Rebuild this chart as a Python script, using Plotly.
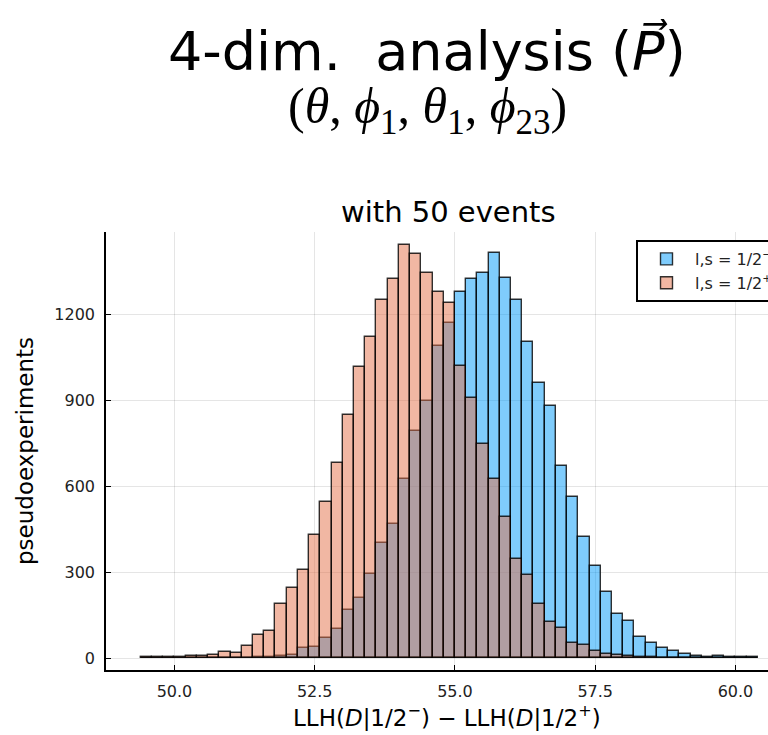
import numpy as np
import plotly.graph_objects as go

# ---------------- data ----------------
bin_width = 0.2
bin_left_edges = np.round(np.arange(49.4, 60.4 - 1e-9, bin_width), 1)  # 55 bins, 49.4 ... 60.2

counts_minus = [  # blue series
    0, 0, 0, 0, 0, 0, 0, 0,          # 49.4 - 50.8
    1, 2, 3, 5, 8, 13, 35, 40,       # 51.0 - 52.4
    70, 102, 169, 209, 295, 403, 469, 626,   # 52.6 - 54.0
    792, 899, 1091, 1172, 1279, 1323, 1345, 1413,  # 54.2 - 55.6
    1328, 1250, 1104, 962, 880, 672, 562, 422,     # 55.8 - 57.2
    322, 230, 153, 130, 75, 52, 37, 25,            # 57.4 - 58.8
    16, 8, 6, 8, 5, 4, 3,                          # 59.0 - 60.2
]
counts_plus = [  # red series
    5, 4, 4, 4, 9, 8, 11, 23,        # 49.4 - 50.8
    20, 42, 83, 95, 191, 246, 308, 431,      # 51.0 - 52.4
    544, 682, 849, 1017, 1120, 1250, 1323, 1444,   # 52.6 - 54.0
    1410, 1345, 1280, 1241, 1020, 909, 749, 626,   # 54.2 - 55.6
    494, 347, 291, 188, 126, 107, 52, 47,          # 55.8 - 57.2
    26, 15, 10, 7, 5, 3, 2, 1,                     # 57.4 - 58.8
    1, 0, 0, 0, 0, 0, 0,                           # 59.0 - 60.2
]
series_names = ["l,s = 1/2<sup>−</sup>", "l,s = 1/2<sup>+</sup>"]
x_tickvals = [50.0, 52.5, 55.0, 57.5, 60.0]
x_ticktext = ["50.0", "52.5", "55.0", "57.5", "60.0"]
y_tickvals = [0, 300, 600, 900, 1200]
y_ticktext = ["0", "300", "600", "900", "1200"]

main_title = "4-dim.  analysis (<i>P\u20d7</i>)"
sub_title = "(<i>θ</i>, <i>ϕ</i><sub>1</sub>, <i>θ</i><sub>1</sub>, <i>ϕ</i><sub>23</sub>)"
plot_title = "with 50 events"
x_label = "LLH(<i>D</i>|1/2<sup>−</sup>) − LLH(<i>D</i>|1/2<sup>+</sup>)"
y_label = "pseudoexperiments"

# ---------------- layout geometry (pixels) ----------------
W, H = 768, 735
L, R, T, B = 106, 768, 232, 670
PW, PH = R - L, B - T


def px(x):
    return (x - L) / PW


def py(y):
    return (B - y) / PH


centers = bin_left_edges + bin_width / 2
FONT = "DejaVu Sans"

fig = go.Figure()
fig.add_trace(go.Bar(
    x=centers, y=counts_minus, width=bin_width, name=series_names[0],
    marker=dict(color="rgba(0,154,250,0.5)",
                line=dict(color="rgba(0,0,0,0.8)", width=1.4)),
))
fig.add_trace(go.Bar(
    x=centers, y=counts_plus, width=bin_width, name=series_names[1],
    marker=dict(color="rgba(227,111,71,0.5)",
                line=dict(color="rgba(0,0,0,0.8)", width=1.4)),
))

fig.update_layout(
    width=W, height=H,
    margin=dict(l=L, r=W - R, t=T, b=H - B, autoexpand=False),
    paper_bgcolor="white", plot_bgcolor="white",
    barmode="overlay", bargap=0,
    font=dict(family=FONT, color="black"),
    showlegend=True,
    legend=dict(x=px(636), y=py(240), xanchor="left", yanchor="top",
                bgcolor="white", bordercolor="black", borderwidth=2,
                font=dict(size=16, family=FONT, color="#222"), tracegroupgap=0,
                itemwidth=47),
)

fig.update_xaxes(
    range=[48.78, 60.58], tickvals=x_tickvals, ticktext=x_ticktext,
    ticks="inside", ticklen=5, tickwidth=1.2, tickcolor="black",
    showline=True, linecolor="black", linewidth=1.5,
    showgrid=True, gridcolor="rgba(0,0,0,0.1)", gridwidth=1,
    zeroline=False, tickfont=dict(size=16, family=FONT, color="#222"),
    ticklabelstandoff=6,
)
fig.update_yaxes(
    range=[-40.8, 1488], tickvals=y_tickvals, ticktext=y_ticktext,
    ticks="inside", ticklen=5, tickwidth=1.2, tickcolor="black",
    showline=True, linecolor="black", linewidth=1.5,
    showgrid=True, gridcolor="rgba(0,0,0,0.1)", gridwidth=1,
    zeroline=False, tickfont=dict(size=16, family=FONT, color="#222"),
    ticklabelstandoff=6,
    title=dict(text=y_label, font=dict(size=23, family=FONT), standoff=14),
)

annotations = [
    dict(text=main_title, x=px(427), y=py(50), font=dict(size=54, family=FONT)),
    dict(text=sub_title, x=px(427), y=py(110), font=dict(size=50, family="Liberation Serif")),
    dict(text=plot_title, x=px(448), y=py(212), font=dict(size=29, family=FONT)),
    dict(text=x_label, x=px(447), y=py(716), font=dict(size=23, family=FONT)),
]
for a in annotations:
    a.update(xref="paper", yref="paper", xanchor="center", yanchor="middle",
             showarrow=False)
fig.update_layout(annotations=annotations)

fig.write_html("out.html")
